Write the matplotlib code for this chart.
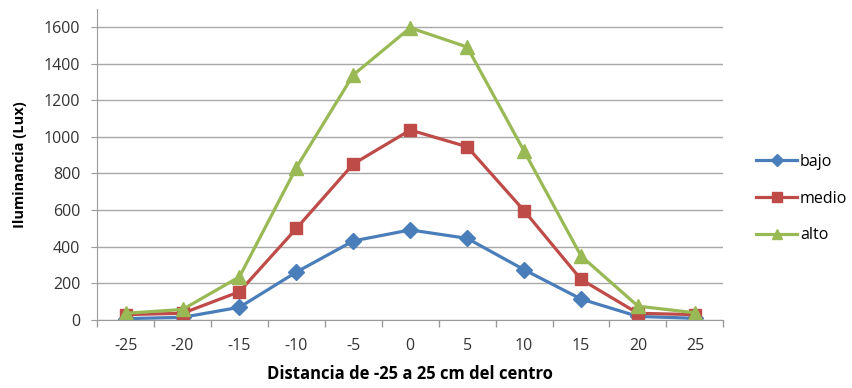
import matplotlib

matplotlib.use("Agg")
import matplotlib.pyplot as plt

plt.rcParams["font.family"] = ["Open Sans", "DejaVu Sans"]

# Data
distancia = ["-25", "-20", "-15", "-10", "-5", "0", "5", "10", "15", "20", "25"]
bajo = [8, 15, 70, 262, 432, 492, 446, 275, 115, 20, 10]
medio = [30, 37, 155, 500, 852, 1037, 946, 597, 222, 37, 30]
alto = [37, 58, 236, 832, 1338, 1595, 1490, 922, 350, 76, 40]

SERIES = [
    ("bajo", bajo, "#4A7EBB", "D", 8),
    ("medio", medio, "#BE4B48", "s", 9),
    ("alto", alto, "#98B954", "^", 10),
]

fig = plt.figure(figsize=(8.52, 3.88), dpi=100)
ax = fig.add_axes([0.114, 0.175, 0.735, 0.803])

x = range(len(distancia))
for name, vals, color, marker, ms in SERIES:
    ax.plot(x, vals, color=color, marker=marker, markersize=ms,
            linewidth=2.3, label=name)

ax.set_xlim(-0.5, len(distancia) - 0.5)
ax.set_ylim(0, 1700)
ax.set_yticks(range(0, 1601, 200))
ax.set_xticks(list(x))
ax.set_xticklabels(distancia)
ax.set_xticks([i - 0.5 for i in range(len(distancia) + 1)], minor=True)
ax.tick_params(axis="x", which="major", length=0, pad=13, labelsize=11.5,
               labelcolor="#333333")
ax.tick_params(axis="x", which="minor", length=5, color="#9a9a9a", width=1)
ax.tick_params(axis="y", length=4, color="#9a9a9a", labelsize=11.5,
               labelcolor="#333333", pad=8)

ax.grid(axis="y", color="#a8a8a8", linewidth=1)
ax.set_axisbelow(True)
for side in ["top", "right"]:
    ax.spines[side].set_visible(False)
for side in ["left", "bottom"]:
    ax.spines[side].set_color("#9a9a9a")

ax.set_xlabel("Distancia de -25 a 25 cm del centro", fontsize=12,
              fontweight="bold", labelpad=8)
ax.set_ylabel("Iluminancia (Lux)", fontsize=10.5, fontweight="bold",
              labelpad=12)

ax.legend(loc="center left", bbox_to_anchor=(1.029, 0.39), frameon=False,
          fontsize=11.5, handlelength=2.6, handletextpad=0.15,
          labelspacing=1.3, markerscale=0.75)

fig.savefig("out.png", dpi=100)
